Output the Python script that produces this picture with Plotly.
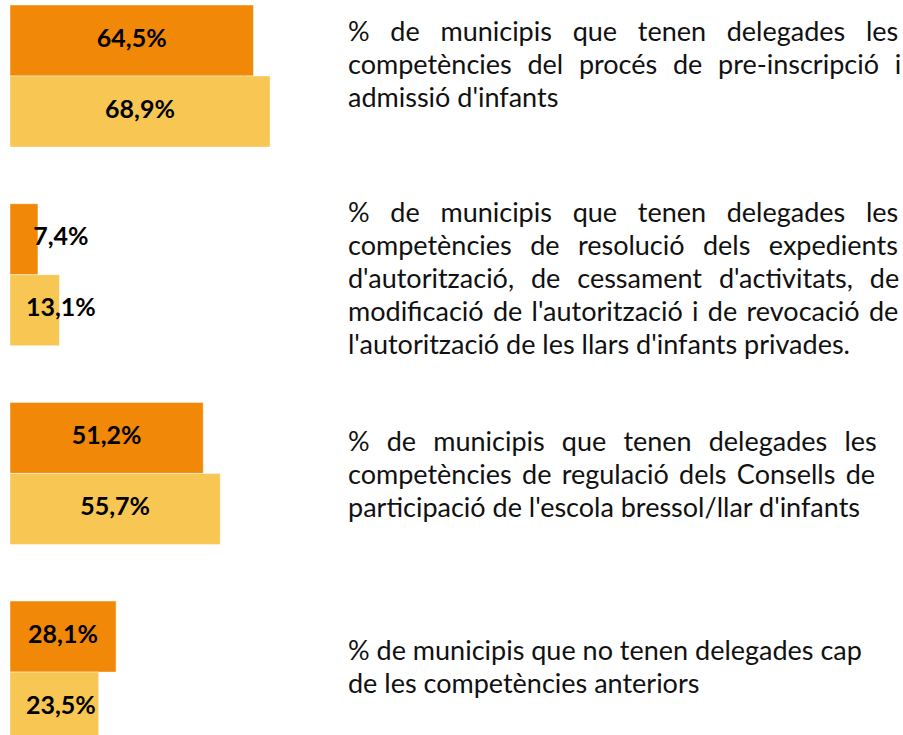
import plotly.graph_objects as go

# ---- data ----
groups = [0, 1, 2, 3]
serie_a = [64.5, 7.4, 51.2, 28.1]   # orange
serie_b = [68.9, 13.1, 55.7, 23.5]  # yellow
labels_a = ["64,5%", "7,4%", "51,2%", "28,1%"]
labels_b = ["68,9%", "13,1%", "55,7%", "23,5%"]

descriptions = [
    ["% de municipis que tenen delegades les",
     "competències del procés de pre-inscripció i",
     "admissió d'infants"],
    ["% de municipis que tenen delegades les",
     "competències de resolució dels expedients",
     "d'autorització, de cessament d'activitats, de",
     "modificació de l'autorització i de revocació de",
     "l'autorització de les llars d'infants privades."],
    ["% de municipis que tenen delegades les",
     "competències de regulació dels Consells de",
     "participació de l'escola bressol/llar d'infants"],
    ["% de municipis que no tenen delegades cap",
     "de les competències anteriors"],
]

# ---- styling / layout ----
W, H = 903, 735
ORANGE = "#F18807"
YELLOW = "#F8C652"
FONT = "Lato"
BARGAP = 0.2853
half = (1 - BARGAP) / 4.0  # centre offset of each bar within a group
min_label_x = 13.5

# word spacing (px) used to imitate the justified paragraphs
word_spacing = [
    [13.8, 8.8, 0],
    [13.8, 11.5, 10.0, 2.4, 0],
    [10.2, 3.4, 0],
    [0, 0],
]

fig = go.Figure()
fig.add_trace(go.Bar(y=groups, x=serie_a, orientation="h", marker_color=ORANGE,
                     marker_line=dict(color="rgba(255,255,255,0.45)", width=1),
                     hoverinfo="x"))
fig.add_trace(go.Bar(y=groups, x=serie_b, orientation="h", marker_color=YELLOW,
                     marker_line=dict(color="rgba(255,255,255,0.45)", width=1),
                     hoverinfo="x"))

lx, ly, lt = [], [], []
for g, a, b, la, lb in zip(groups, serie_a, serie_b, labels_a, labels_b):
    lx += [max(a / 2, min_label_x), max(b / 2, min_label_x)]
    ly += [g - half, g + half]
    lt += [la, lb]
fig.add_trace(go.Scatter(x=lx, y=ly, text=lt, mode="text",
                         textfont=dict(family=FONT, size=25, color="#000000",
                                       weight="bold"),
                         hoverinfo="skip"))

# text blocks (first baseline in px, line pitch)
first_baseline = [39, 220, 449, 658]
pitch = 33
fs = 27
text_left = 346
for g, lines in enumerate(descriptions):
    for k, line in enumerate(lines):
        base = first_baseline[g] + k * pitch
        yc = base - 0.33 * fs
        ws = word_spacing[g][k]
        txt = f'<span style="word-spacing:{ws}px">{line}</span>' if ws else line
        fig.add_annotation(x=(text_left - 10) / (W - 10), y=1 - yc / H,
                           xref="paper", yref="paper", text=txt, showarrow=False,
                           xanchor="left", yanchor="middle",
                           font=dict(family=FONT, size=fs, color="#111111"))

fig.update_layout(
    width=W, height=H, barmode="group", bargap=BARGAP, bargroupgap=0,
    margin=dict(l=10, r=0, t=0, b=0),
    plot_bgcolor="white", paper_bgcolor="white",
    showlegend=False,
    xaxis=dict(range=[0, 236.6], visible=False, fixedrange=True),
    yaxis=dict(range=[3.3166, -0.3825], visible=False, fixedrange=True),
)
fig.write_html("out.html", config={"displayModeBar": False},
               post_script="document.body.style.margin='0px';")
